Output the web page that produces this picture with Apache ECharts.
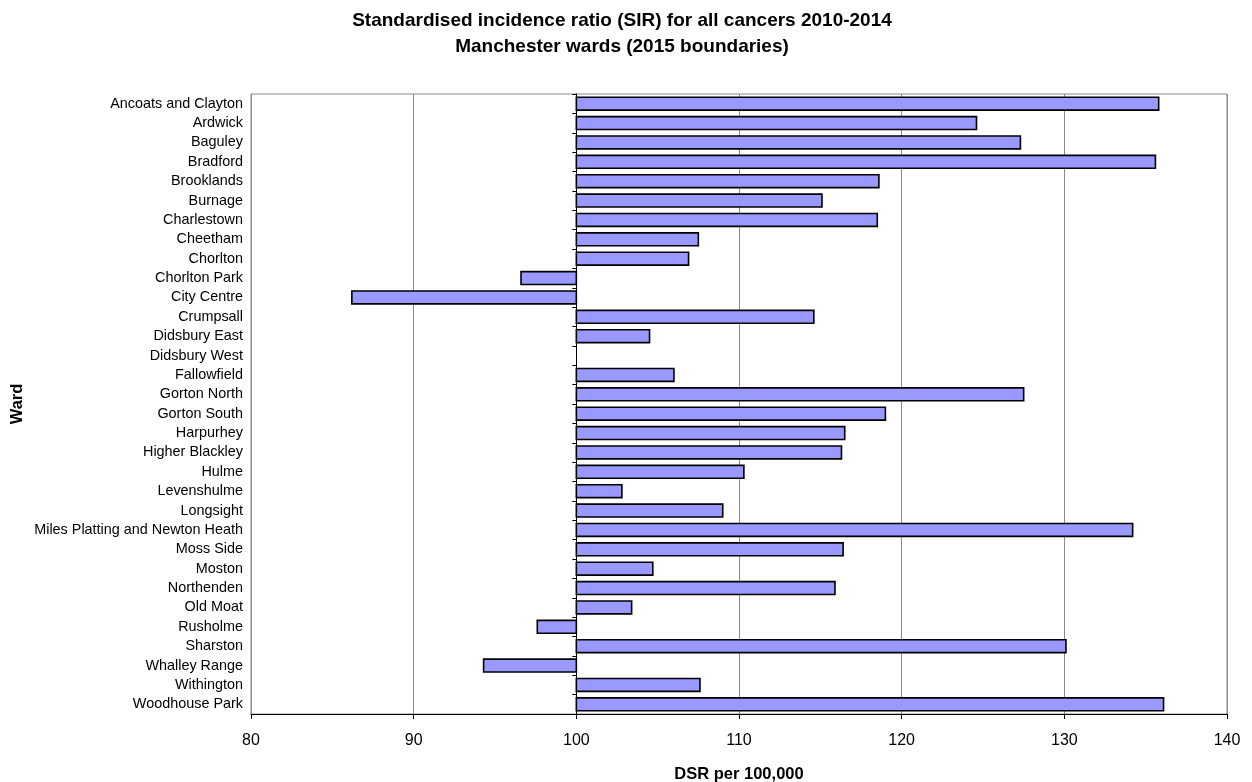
<!DOCTYPE html>
<html>
<head>
<meta charset="utf-8">
<title>Standardised incidence ratio (SIR) for all cancers 2010-2014</title>
<script src="https://cdn.jsdelivr.net/npm/echarts@6/dist/echarts.min.js"></script>
<style>
  html, body { margin: 0; padding: 0; background: #ffffff; }
  #chart { width: 1252px; height: 782px; }
</style>
</head>
<body>
<div id="chart"></div>
<script>
// Manchester wards (2015 boundaries)
const wards = [
  'Ancoats and Clayton', 'Ardwick', 'Baguley', 'Bradford', 'Brooklands',
  'Burnage', 'Charlestown', 'Cheetham', 'Chorlton', 'Chorlton Park',
  'City Centre', 'Crumpsall', 'Didsbury East', 'Didsbury West', 'Fallowfield',
  'Gorton North', 'Gorton South', 'Harpurhey', 'Higher Blackley', 'Hulme',
  'Levenshulme', 'Longsight', 'Miles Platting and Newton Heath', 'Moss Side', 'Moston',
  'Northenden', 'Old Moat', 'Rusholme', 'Sharston', 'Whalley Range',
  'Withington', 'Woodhouse Park'
];

// SIR per ward, all cancers 2010-2014
const sirValues = [
  135.8, 124.6, 127.3, 135.6, 118.6,
  115.1, 118.5, 107.5, 106.9, 96.6,
  86.2, 114.6, 104.5, 100.0, 106.0,
  127.5, 119.0, 116.5, 116.3, 110.3,
  102.8, 109.0, 134.2, 116.4, 104.7,
  115.9, 103.4, 97.6, 130.1, 94.3,
  107.6, 136.1
];

// Reference level the bars grow from
const baseline = 100;

// Value axis range and tick step
const axisMin = 80;
const axisMax = 140;
const axisStep = 10;

const FONT = "'Liberation Sans', Arial, Helvetica, sans-serif";
const GRID = { left: 251, right: 25, top: 94, bottom: 68 };

const chart = echarts.init(document.getElementById('chart'), null, { renderer: 'canvas' });

const seriesData = sirValues.map((v, i) => [v, i]);

const option = {
  backgroundColor: '#ffffff',
  animation: false,
  title: {
    text: 'Standardised incidence ratio (SIR) for all cancers 2010-2014\nManchester wards (2015 boundaries)',
    left: 617,
    top: 3,
    textAlign: 'center',
    textStyle: {
      fontFamily: FONT,
      fontSize: 19,
      fontWeight: 'bold',
      color: '#000000',
      lineHeight: 26
    }
  },
  grid: {
    left: GRID.left,
    right: GRID.right,
    top: GRID.top,
    bottom: GRID.bottom,
    outerBoundsMode: 'none',
    containLabel: false,
    show: true,
    borderColor: '#8c8c8c',
    borderWidth: 1,
    backgroundColor: '#ffffff'
  },
  xAxis: {
    type: 'value',
    min: axisMin,
    max: axisMax,
    interval: axisStep,
    name: 'DSR per 100,000',
    nameLocation: 'middle',
    nameGap: 52,
    nameMoveOverlap: false,
    nameTextStyle: { fontFamily: FONT, fontSize: 16.5, fontWeight: 'bold', color: '#000000' },
    axisLine: { show: true, lineStyle: { color: '#000000', width: 1 } },
    axisTick: { show: true, inside: false, length: 5, lineStyle: { color: '#000000' } },
    axisLabel: { fontFamily: FONT, fontSize: 16, color: '#000000', margin: 19 },
    splitLine: { show: true, lineStyle: { color: '#8c8c8c', width: 1 } }
  },
  yAxis: [
    {
      // ward names along the left edge of the plot
      type: 'category',
      data: wards,
      inverse: true,
      position: 'left',
      name: 'Ward',
      nameLocation: 'middle',
      nameRotate: 90,
      nameGap: 225,
      nameMoveOverlap: false,
      nameTextStyle: { fontFamily: FONT, fontSize: 16.5, fontWeight: 'bold', color: '#000000' },
      axisLine: { show: false },
      axisTick: { show: false },
      axisLabel: { fontFamily: FONT, fontSize: 14.4, color: '#000000', margin: 8, interval: 0 },
      splitLine: { show: false }
    },
    {
      // the category line sitting at the baseline value, with boundary ticks
      type: 'category',
      data: wards,
      inverse: true,
      position: 'left',
      offset: 0,
      axisLine: { show: true, lineStyle: { color: '#000000', width: 1 } },
      axisTick: { show: true, inside: false, length: 4, interval: 0, lineStyle: { color: '#000000' } },
      axisLabel: { show: false },
      splitLine: { show: false }
    }
  ],
  series: [
    {
      type: 'custom',
      xAxisIndex: 0,
      yAxisIndex: 0,
      encode: { x: 0, y: 1 },
      data: seriesData,
      z: 3,
      renderItem: function (params, api) {
        const v = api.value(0);
        const idx = api.value(1);
        const start = api.coord([baseline, idx]);
        const end = api.coord([v, idx]);
        const band = api.size([0, 1])[1];
        const h = band * 0.667;
        const x0 = Math.min(start[0], end[0]);
        const w = Math.abs(end[0] - start[0]);
        if (w < 0.5) return null;
        return {
          type: 'rect',
          shape: { x: x0, y: start[1] - h / 2, width: w, height: h },
          style: { fill: '#9999ff', stroke: '#000000', lineWidth: 1.6 }
        };
      }
    }
  ]
};

chart.setOption(option);

// Move the second category axis onto the baseline value
const basePx = chart.convertToPixel({ xAxisIndex: 0 }, baseline);
const leftPx = chart.convertToPixel({ xAxisIndex: 0 }, axisMin);
chart.setOption({ yAxis: [{}, { offset: -(basePx - leftPx) }] });
</script>
</body>
</html>
